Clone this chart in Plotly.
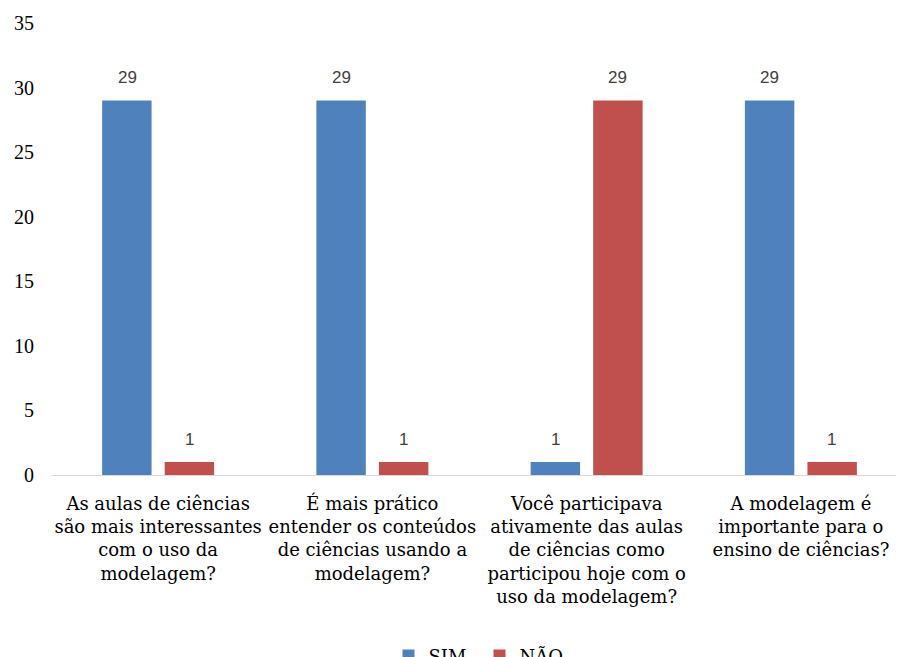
import plotly.graph_objects as go

categories = [
    "As aulas de ciências<br>são mais interessantes<br>com o uso da<br>modelagem?",
    "É mais prático<br>entender os conteúdos<br>de ciências usando a<br>modelagem?",
    "Você participava<br>ativamente das aulas<br>de ciências como<br>participou hoje com o<br>uso da modelagem?",
    "A modelagem é<br>importante para o<br>ensino de ciências?",
]
sim = [29, 29, 1, 29]
nao = [1, 1, 29, 1]
y_ticks = [0, 5, 10, 15, 20, 25, 30, 35]
y_ticktext = ["0", "5", "10", "15", "20", "25", "30", "35"]

sans = "Liberation Sans"
label_serif = "DejaVu Serif"

fig = go.Figure()
fig.add_trace(go.Bar(name="SIM", x=categories, y=sim, marker_color="#4F81BD",
                     marker_line_width=0))
fig.add_trace(go.Bar(name="NÃO", x=categories, y=nao, marker_color="#C0504D",
                     marker_line_width=0))

for vals, shift in ((sim, -31), (nao, 31)):
    for c, v in zip(categories, vals):
        fig.add_annotation(x=c, y=v, text=str(v), showarrow=False, xref="x", yref="y",
                           xshift=shift, yshift=23, yanchor="middle",
                           font=dict(family=sans, size=17, color="#404040"))

fig.update_layout(
    width=904, height=657,
    margin=dict(l=43, r=4, t=15, b=190),
    paper_bgcolor="white", plot_bgcolor="white",
    barmode="group", bargap=0.416, bargroupgap=0.21,
    font=dict(family="serif", size=20, color="#000000"),
    showlegend=True,
    legend=dict(orientation="h", x=0.5, xanchor="center",
                yref="container", y=0.014, yanchor="middle",
                font=dict(family=label_serif, size=18, color="#000000"),
                itemwidth=30, entrywidth=46, traceorder="normal"),
)
fig.update_xaxes(showline=True, linecolor="#D9D9D9", linewidth=1, ticks="",
                 showgrid=False, automargin=False, tickangle=0, ticklabelstandoff=12,
                 tickfont=dict(family=label_serif, size=18, color="#000000"))
fig.update_yaxes(range=[0, 35], tickvals=y_ticks, ticktext=y_ticktext, showgrid=False,
                 zeroline=False, showline=False, ticks="", ticklabelstandoff=16,
                 automargin=False,
                 tickfont=dict(family="Times New Roman", size=20, color="#000000"))

fig.write_html("out.html")
